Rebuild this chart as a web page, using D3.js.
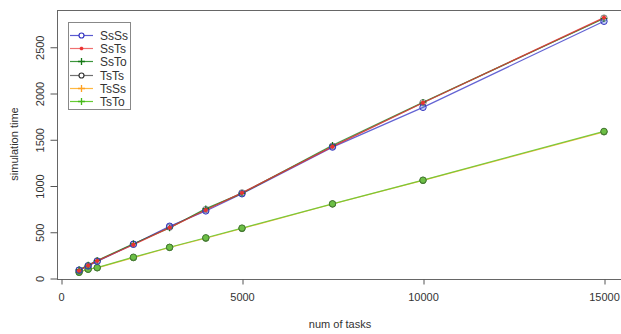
<!DOCTYPE html>
<html><head><meta charset="utf-8">
<script src="https://cdn.jsdelivr.net/npm/d3@7"></script>
<style>body{margin:0;background:#fff}svg{display:block}</style>
</head><body>
<script>
const tasks = [500,750,1000,2000,3000,4000,5000,7500,10000,15000];
const SsSs = [85,130,180,365,560,725,910,1415,1845,2775];
const SsTs = [80,135,185,360,545,735,920,1420,1895,2815];
const SsTo = [90,140,190,370,540,750,915,1435,1900,2805];
const TsTs = [85,135,185,365,550,740,920,1425,1895,2810];
const TsSs = [60,95,110,220,330,430,535,800,1055,1580];
const TsTo = [65,95,112,225,332,435,540,802,1058,1585];
const seriesNames = ["SsSs","SsTs","SsTo","TsTs","TsSs","TsTo"];
const xTicks = [0,5000,10000,15000];
const yTicks = [0,500,1000,1500,2000,2500];

const series = [
  {name:"SsSs", vals:SsSs, color:"rgba(60,60,200,0.8)", lcol:"#5a5ad0", mk:"o", mcolor:"#3434c0"},
  {name:"SsTs", vals:SsTs, color:"rgba(235,50,50,0.8)", lcol:"#f07070", mk:"*", mcolor:"#eb3232"},
  {name:"SsTo", vals:SsTo, color:"rgba(20,130,20,0.75)", lcol:"#3c963c", mk:"+", mcolor:"#147814"},
  {name:"TsTs", vals:TsTs, color:"rgba(40,40,40,0.5)", lcol:"#707070", mk:"o", mcolor:"#333333"},
  {name:"TsSs", vals:TsSs, color:"rgba(255,170,40,0.8)", lcol:"#ffb840", mk:"+", mcolor:"#ffa020"},
  {name:"TsTo", vals:TsTo, color:"rgba(90,200,40,0.8)", lcol:"#66cc33", mk:"+", mcolor:"#44b818"}
];

const W=621,H=334;
const svg=d3.select("body").append("svg").attr("width",W).attr("height",H);
const x=d3.scaleLinear().domain([0,15000]).range([61,604]);
const y=d3.scaleLinear().domain([0,2500]).range([278,46.75]);
const box={l:57,t:10,r:640,b:279};
const axisCol="#555", txtCol="#333";
const FF="Liberation Sans, Arial, sans-serif";

svg.append("rect").attr("x",box.l+0.5).attr("y",box.t+0.5).attr("width",box.r-box.l).attr("height",box.b-box.t)
  .attr("fill","none").attr("stroke","#666").attr("stroke-width",1);

const gx=svg.append("g").attr("transform",`translate(0,${box.b+0.5})`)
  .call(d3.axisBottom(x).tickValues(xTicks).tickSize(5).tickPadding(9).tickFormat(d3.format("d")));
gx.select(".domain").remove();
gx.selectAll("line").attr("stroke",axisCol).attr("transform","translate(0.5,0)");
gx.selectAll("text").attr("fill",txtCol).attr("font-family",FF).attr("font-size",11);

const gy=svg.append("g").attr("transform",`translate(${box.l+0.5},0)`)
  .call(d3.axisLeft(y).tickValues(yTicks).tickSize(7).tickPadding(0).tickFormat(d3.format("d")));
gy.select(".domain").remove();
gy.selectAll("line").attr("stroke",axisCol).attr("transform","translate(0,0.5)");
gy.selectAll("text").attr("fill",txtCol).attr("font-family",FF).attr("font-size",11)
  .attr("text-anchor","middle").attr("x",0).attr("y",0).attr("dy",0).attr("dominant-baseline","central")
  .attr("transform","translate(-18,0.5) rotate(-90)");

svg.append("text").attr("x",340).attr("y",328).attr("text-anchor","middle")
  .attr("fill",txtCol).attr("font-family",FF).attr("font-size",11).text("num of tasks");
svg.append("text").attr("transform","translate(18,144) rotate(-90)").attr("text-anchor","middle")
  .attr("fill",txtCol).attr("font-family",FF).attr("font-size",11).text("simulation time");

const line=d3.line().x((d,i)=>x(tasks[i])).y(d=>y(d));
const order=[4,5,3,0,2,1];
order.forEach(k=>{
  const s=series[k];
  svg.append("path").attr("d",line(s.vals)).attr("fill","none").attr("stroke",s.color).attr("stroke-width",1.2);
});

function marker(g,mk,cx,cy,col,r,w){
  w=w||1.1;
  if(mk==="o"){
    g.append("circle").attr("cx",cx).attr("cy",cy).attr("r",r).attr("fill","none").attr("stroke",col).attr("stroke-width",w);
  } else if(mk==="+"){
    g.append("path").attr("d",`M${cx-r},${cy}H${cx+r}M${cx},${cy-r}V${cy+r}`).attr("fill","none").attr("stroke",col).attr("stroke-width",w);
  } else {
    g.append("path").attr("d",`M${cx-r},${cy}H${cx+r}M${cx},${cy-r}V${cy+r}M${cx-r*0.7},${cy-r*0.7}L${cx+r*0.7},${cy+r*0.7}M${cx-r*0.7},${cy+r*0.7}L${cx+r*0.7},${cy-r*0.7}`).attr("fill","none").attr("stroke",col).attr("stroke-width",w);
  }
}
const pts=svg.append("g");
[4,5].forEach(k=>{
  const s=series[k];
  s.vals.forEach((v,i)=>{
    pts.append("circle").attr("cx",x(tasks[i])).attr("cy",y(v)).attr("r",3.2)
      .attr("fill","#6cbf45").attr("stroke","#3f6f30").attr("stroke-width",0.9);
  });
});
[3,0,2,1].forEach(k=>{
  const s=series[k];
  s.vals.forEach((v,i)=>{
    if(s.mk==="o"){
      pts.append("circle").attr("cx",x(tasks[i])).attr("cy",y(v)).attr("r",3.2)
        .attr("fill", k===0?"rgba(90,120,220,0.35)":"none").attr("stroke",s.mcolor).attr("stroke-width",1).attr("stroke-opacity",k===3?0.6:1);
    } else marker(pts,s.mk,x(tasks[i]),y(v),s.mcolor,k===1?2.2:3.2);
  });
});

const lg=svg.append("g");
lg.append("rect").attr("x",68.5).attr("y",22.5).attr("width",62).attr("height",87)
  .attr("fill","#fff").attr("stroke","#888").attr("stroke-width",1);
series.forEach((s,i)=>{
  const yy=Math.round(35+i*13.2)+0.5;
  lg.append("line").attr("x1",70).attr("x2",93).attr("y1",yy).attr("y2",yy).attr("stroke",s.lcol).attr("stroke-width",1.2);
  if(s.mk==="o") lg.append("circle").attr("cx",81.5).attr("cy",yy).attr("r",2.5).attr("fill","#fff").attr("stroke",s.mcolor).attr("stroke-width",1.2);
  else marker(lg,s.mk,81.5,yy,s.mcolor,s.mk==="*"?1.8:3.5,1.3);
  lg.append("text").attr("x",100).attr("y",yy).attr("dominant-baseline","central")
    .attr("fill",txtCol).attr("font-family",FF).attr("font-size",12).text(s.name);
});
</script>
</body></html>
